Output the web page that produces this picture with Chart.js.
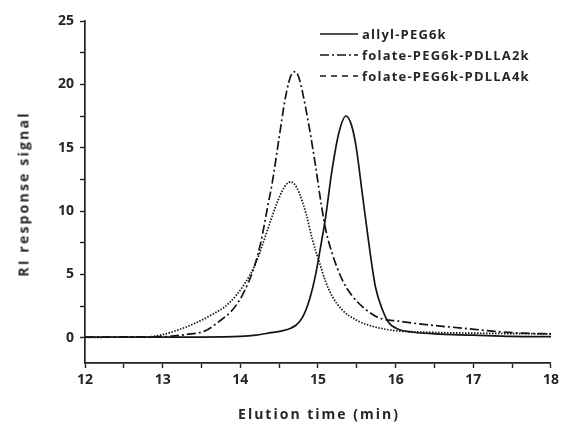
<!DOCTYPE html>
<html>
<head>
<meta charset="utf-8">
<script src="https://cdn.jsdelivr.net/npm/chart.js@4/dist/chart.umd.min.js"></script>
<style>
  body { margin: 0; background: #fff; }
  #wrap { position: relative; width: 563px; height: 424px; font-family: "Open Sans", Lato, sans-serif; font-weight: bold; color: #262626; }
  #yTitle { position: absolute; left: 23px; top: 194px; transform: translate(-50%, -50%) rotate(-90deg); font-size: 14px; letter-spacing: 2.2px; white-space: nowrap; }
  #xTitle { position: absolute; left: 319px; top: 413px; transform: translate(-50%, -50%); font-size: 14px; letter-spacing: 2px; white-space: nowrap; }
  #legend { position: absolute; left: 320px; top: 23px; font-size: 13px; letter-spacing: 1.2px; }
  #legend .row { display: flex; align-items: center; height: 21px; }
  #legend svg { width: 38px; height: 6px; margin-right: 4px; }
</style>
</head>
<body>
<div id="wrap">
  <canvas id="chart" width="563" height="424"></canvas>
  <div id="yTitle">RI response signal</div>
  <div id="xTitle">Elution time (min)</div>
  <div id="legend"></div>
</div>
<script>
// DATA
const seriesNames = ["allyl-PEG6k", "folate-PEG6k-PDLLA2k", "folate-PEG6k-PDLLA4k"];

// allyl-PEG6k (solid)
const allylTime = [12, 13, 13.5, 14, 14.2, 14.4, 14.55, 14.65, 14.72, 14.8, 14.89, 14.97, 15.02, 15.1, 15.18, 15.27, 15.36, 15.43, 15.49, 15.57, 15.66, 15.74, 15.83, 15.91, 16.04, 16.2, 16.5, 17, 17.5, 18];
const allylSignal = [0.05, 0.05, 0.05, 0.1, 0.2, 0.4, 0.55, 0.75, 1.0, 1.6, 3.0, 5.0, 6.7, 9.6, 13.2, 16.2, 17.5, 16.8, 15.1, 11.4, 7.2, 4.0, 2.2, 1.2, 0.65, 0.45, 0.3, 0.2, 0.1, 0.08];

// folate-PEG6k-PDLLA2k (dash dot)
const pdlla2Time = [12, 13, 13.3, 13.55, 13.73, 13.9, 14.03, 14.18, 14.27, 14.35, 14.41, 14.5, 14.57, 14.63, 14.67, 14.71, 14.75, 14.8, 14.89, 14.97, 15.04, 15.1, 15.18, 15.31, 15.44, 15.62, 15.79, 16.04, 16.43, 16.85, 17.28, 17.58, 18];
const pdlla2Signal = [0.05, 0.08, 0.25, 0.55, 1.3, 2.2, 3.4, 5.6, 7.7, 10.3, 12.2, 15.8, 18.6, 20.3, 20.9, 21.0, 20.6, 19.4, 16.5, 13.5, 10.6, 8.5, 6.7, 4.6, 3.3, 2.2, 1.55, 1.3, 1.0, 0.76, 0.5, 0.37, 0.3];

// folate-PEG6k-PDLLA4k (dotted)
const pdlla4Time = [12, 12.78, 13, 13.21, 13.42, 13.63, 13.85, 14.06, 14.2, 14.3, 14.4, 14.47, 14.54, 14.6, 14.65, 14.7, 14.76, 14.85, 14.93, 15.02, 15.1, 15.18, 15.31, 15.49, 15.7, 15.96, 16.3, 16.85, 17.5, 18];
const pdlla4Signal = [0.03, 0.05, 0.24, 0.63, 1.15, 1.8, 2.7, 4.3, 5.9, 7.6, 9.4, 10.6, 11.6, 12.15, 12.3, 12.1, 11.4, 9.7, 7.7, 5.9, 4.4, 3.3, 2.2, 1.4, 0.9, 0.58, 0.45, 0.37, 0.32, 0.3];

// AXES
const xTicks = [12, 12.5, 13, 13.5, 14, 14.5, 15, 15.5, 16, 16.5, 17, 17.5, 18];
const yTicks = [0, 2.5, 5, 7.5, 10, 12.5, 15, 17.5, 20, 22.5, 25];

const lineStyles = [
  { dash: [], width: 1.7 },
  { dash: [9, 3, 2, 3], width: 1.7 },
  { dash: [1.5, 1.5], width: 1.7 }
];
const legendDash = [[], [9, 3, 2, 3], [6, 5]];

function toPoints(xs, ys){
  return xs.map((x, i) => ({ x: x, y: ys[i] }));
}

const allData = [
  toPoints(allylTime, allylSignal),
  toPoints(pdlla2Time, pdlla2Signal),
  toPoints(pdlla4Time, pdlla4Signal)
];

const ctx = document.getElementById("chart").getContext("2d");
const tickFont = { family: "'Open Sans', Lato, sans-serif", size: 14, weight: "bold" };

new Chart(ctx, {
  type: "line",
  data: {
    datasets: allData.map((pts, i) => ({
      label: seriesNames[i],
      data: pts,
      borderColor: "#141414",
      borderWidth: lineStyles[i].width,
      borderDash: lineStyles[i].dash,
      pointRadius: 0,
      fill: false,
      cubicInterpolationMode: "monotone"
    }))
  },
  options: {
    responsive: false,
    animation: false,
    layout: { padding: { top: 21, right: 11, left: 0, bottom: 0 } },
    plugins: { legend: { display: false }, tooltip: { enabled: false } },
    scales: {
      x: {
        type: "linear",
        min: 12, max: 18,
        afterFit: s => { s.height = 61; },
        afterBuildTicks: s => { s.ticks = xTicks.map(v => ({ value: v })); },
        border: { color: "#222", width: 1.7 },
        grid: { drawOnChartArea: false, drawTicks: true, tickLength: 5, tickColor: "#222", tickWidth: 1.4 },
        ticks: {
          color: "#262626", font: tickFont, padding: 4, maxRotation: 0, autoSkip: false,
          callback: v => (Number.isInteger(v) ? String(v) : "")
        }
      },
      y: {
        min: -2, max: 25,
        afterFit: s => { s.width = 85; },
        afterBuildTicks: s => { s.ticks = yTicks.map(v => ({ value: v })); },
        border: { color: "#222", width: 1.7 },
        grid: { drawOnChartArea: false, drawTicks: true, tickLength: 5, tickColor: "#222", tickWidth: 1.4 },
        ticks: {
          color: "#262626", font: tickFont, padding: 6, autoSkip: false,
          callback: v => (v % 5 === 0 ? String(v) : "")
        }
      }
    }
  }
});

// LEGEND
const legend = document.getElementById("legend");
seriesNames.forEach((name, i) => {
  const row = document.createElement("div");
  row.className = "row";
  row.innerHTML = `<svg viewBox="0 0 38 6"><line x1="0" y1="3" x2="38" y2="3" stroke="#141414" stroke-width="1.7" stroke-dasharray="${legendDash[i].join(",") || "none"}"/></svg><span>${name}</span>`;
  legend.appendChild(row);
});
</script>
</body>
</html>
